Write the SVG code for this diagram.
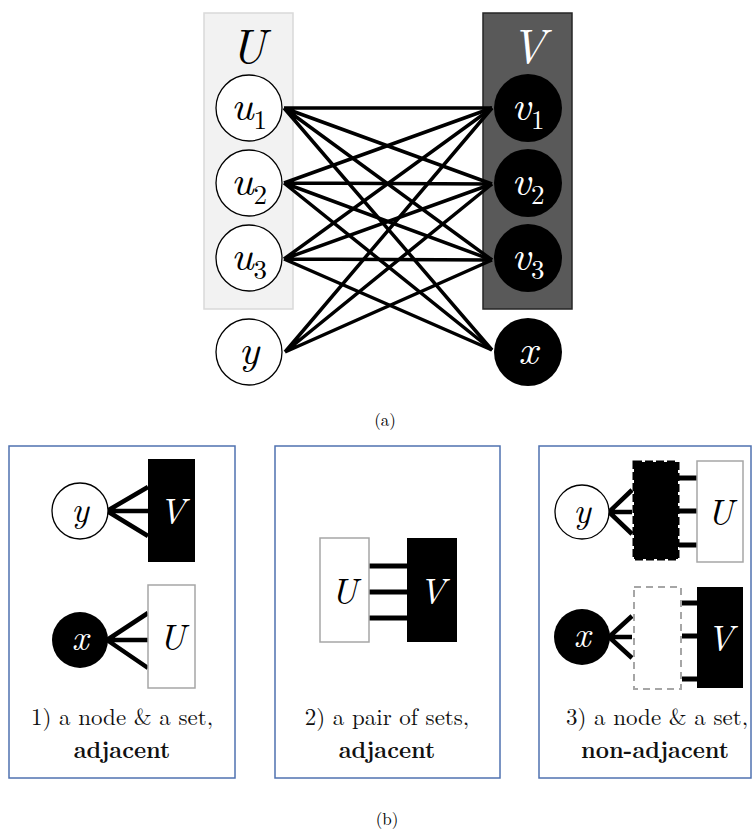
<svg xmlns="http://www.w3.org/2000/svg" width="753" height="831" viewBox="0 0 753 831">
<style>
.m{font-style:italic;text-anchor:middle}
.sub{font-style:normal}
.wn{fill:#fff;stroke:#000;stroke-width:1.3}
.bn{fill:#000}
.wt{fill:#fff}
.e{stroke:#000;stroke-width:3.5;fill:none}
.e2{stroke:#000;stroke-width:4.5;fill:none}
.tick{stroke:#000;stroke-width:5}
.panel{fill:#fff;stroke:#4f72b0;stroke-width:1.5}
.cap{text-anchor:middle;fill:#111}
.b{font-weight:bold}
.lbl{text-anchor:middle}
</style>
<rect width="753" height="831" fill="#fff"/>

<!-- (a) -->
<g id="setU"><rect x="204" y="13" width="89" height="296" fill="#f2f2f2" stroke="#d9d9d9" stroke-width="1.5"/><text class="m" x="248" y="63" font-size="48" font-family="Latin Modern Roman">U</text></g>
<g id="setV"><rect x="483" y="13" width="89" height="296" fill="#595959" stroke="#262626" stroke-width="1.5"/><text class="m wt" x="528" y="63" font-size="48" font-family="Latin Modern Roman">V</text></g>

<g id="edges">
<path class="e" d="M284 108L492 108M284 108L492 184M284 108L492 260M284 108L492 350"/>
<path class="e" d="M284 183L492 108M284 183L492 184M284 183L492 260M284 183L492 350"/>
<path class="e" d="M284 259L492 108M284 259L492 184M284 259L492 260M284 259L492 350"/>
<path class="e" d="M285 352L492 108M285 352L492 184M285 352L492 260"/>
</g>

<g id="u1"><circle class="wn" cx="249" cy="108" r="33"/><text class="m" x="249" y="120" font-size="42" font-family="Latin Modern Roman">u<tspan class="sub" font-size="27" dy="9">1</tspan></text></g>
<g id="u2"><circle class="wn" cx="249" cy="183" r="33"/><text class="m" x="249" y="195" font-size="42" font-family="Latin Modern Roman">u<tspan class="sub" font-size="27" dy="9">2</tspan></text></g>
<g id="u3"><circle class="wn" cx="249" cy="258" r="33"/><text class="m" x="249" y="270" font-size="42" font-family="Latin Modern Roman">u<tspan class="sub" font-size="27" dy="9">3</tspan></text></g>
<g id="y"><circle class="wn" cx="249" cy="352" r="33"/><text class="m" x="249" y="364" font-size="42" font-family="Latin Modern Roman">y</text></g>
<g id="v1"><circle class="bn" cx="528" cy="108" r="34"/><text class="m wt" x="528" y="120" font-size="42" font-family="Latin Modern Roman">v<tspan class="sub" font-size="27" dy="9">1</tspan></text></g>
<g id="v2"><circle class="bn" cx="528" cy="183" r="34"/><text class="m wt" x="528" y="195" font-size="42" font-family="Latin Modern Roman">v<tspan class="sub" font-size="27" dy="9">2</tspan></text></g>
<g id="v3"><circle class="bn" cx="528" cy="258" r="34"/><text class="m wt" x="528" y="270" font-size="42" font-family="Latin Modern Roman">v<tspan class="sub" font-size="27" dy="9">3</tspan></text></g>
<g id="x"><circle class="bn" cx="528" cy="352" r="34"/><text class="m wt" x="528" y="364" font-size="42" font-family="Latin Modern Roman">x</text></g>

<text class="lbl" x="385" y="426" font-size="17" font-family="Latin Modern Roman">(a)</text>

<!-- (b) panel 1 -->
<g id="panel1">
<rect class="panel" x="9" y="446" width="226" height="332"/>
<path class="e2" d="M107 511L148 487M107 511L148 511M107 511L148 536"/>
<circle class="wn" cx="80" cy="511" r="28"/><text class="m" x="80" y="522" font-size="36" font-family="Latin Modern Roman">y</text>
<rect x="148" y="459" width="47" height="103" fill="#000"/><text class="m wt" x="172" y="524" font-size="36" font-family="Latin Modern Roman">V</text>
<path class="e2" d="M107 640L148 613M107 640L148 640M107 640L148 668"/>
<circle class="bn" cx="80" cy="640" r="28"/><text class="m wt" x="80" y="650" font-size="36" font-family="Latin Modern Roman">x</text>
<rect x="148" y="585" width="47" height="103" fill="#fff" stroke="#a6a6a6" stroke-width="1.5"/><text class="m" x="172" y="650" font-size="36" font-family="Latin Modern Roman">U</text>
<text class="cap" x="122" y="725" font-size="23" font-family="Latin Modern Roman">1) a node &amp; a set,</text>
<text class="cap b" x="122" y="758" font-size="23" font-family="Latin Modern Roman">adjacent</text>
</g>

<!-- panel 2 -->
<g id="panel2">
<rect class="panel" x="275" y="446" width="225" height="332"/>
<path class="tick" d="M369 566L407 566M369 592L407 592M369 618L407 618"/>
<rect x="320" y="538" width="49" height="104" fill="#fff" stroke="#a6a6a6" stroke-width="1.5"/><text class="m" x="344" y="604" font-size="36" font-family="Latin Modern Roman">U</text>
<rect x="407" y="538" width="50" height="104" fill="#000"/><text class="m wt" x="432" y="604" font-size="36" font-family="Latin Modern Roman">V</text>
<text class="cap" x="387" y="725" font-size="23" font-family="Latin Modern Roman">2) a pair of sets,</text>
<text class="cap b" x="387" y="758" font-size="23" font-family="Latin Modern Roman">adjacent</text>
</g>

<!-- panel 3 -->
<g id="panel3">
<rect class="panel" x="539" y="446" width="212" height="332"/>
<path class="e2" d="M609 512L632 490M609 512L632 512M609 512L632 534"/>
<circle class="wn" cx="582" cy="512" r="27"/><text class="m" x="582" y="523" font-size="36" font-family="Latin Modern Roman">y</text>
<rect x="634" y="462" width="44" height="97" fill="#000" stroke="#000" stroke-width="3" stroke-dasharray="8 3"/>
<path class="tick" d="M679 478L697 478M679 511L697 511M679 545L697 545"/>
<rect x="697" y="461" width="46" height="101" fill="#fff" stroke="#a6a6a6" stroke-width="1.5"/><text class="m" x="720" y="525" font-size="36" font-family="Latin Modern Roman">U</text>
<path class="e2" d="M609 637L632 616M609 637L632 637M609 637L632 658"/>
<circle class="bn" cx="582" cy="637" r="28"/><text class="m wt" x="582" y="647" font-size="36" font-family="Latin Modern Roman">x</text>
<rect x="634" y="587" width="47" height="102" fill="none" stroke="#a6a6a6" stroke-width="2" stroke-dasharray="7 5"/>
<path class="tick" d="M682 603L697 603M682 636L697 636M682 679L697 679"/>
<rect x="697" y="587" width="46" height="101" fill="#000"/><text class="m wt" x="720" y="651" font-size="36" font-family="Latin Modern Roman">V</text>
<text class="cap" x="657" y="725" font-size="23" font-family="Latin Modern Roman">3) a node &amp; a set,</text>
<text class="cap b" x="655" y="758" font-size="23" font-family="Latin Modern Roman">non-adjacent</text>
</g>

<text class="lbl" x="387" y="825" font-size="17" font-family="Latin Modern Roman">(b)</text>
</svg>
